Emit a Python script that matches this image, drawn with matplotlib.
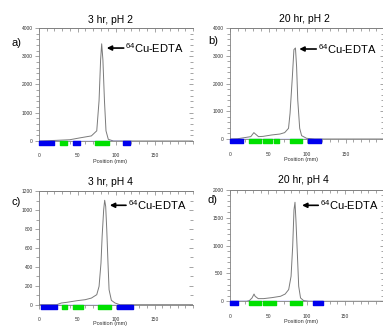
#!/usr/bin/env python3
import matplotlib
matplotlib.use("Agg")
import matplotlib.pyplot as plt
from matplotlib.ticker import MultipleLocator, NullFormatter

plt.rcParams['font.family'] = ['Liberation Sans', 'DejaVu Sans']
plt.rcParams['mathtext.fontset'] = 'custom'
plt.rcParams['mathtext.rm'] = 'Liberation Sans'
plt.rcParams['mathtext.default'] = 'regular'

# traces: position (mm), counts
pos_a = [0, 20, 40, 53, 68, 75, 78, 80, 81.4, 83, 85, 87, 90, 96.5, 110, 200]
cnt_a = [0, 20, 45, 110, 180, 360, 1430, 2870, 3440, 2870, 1430, 360, 60, 0, 0, 0]

pos_b = [0, 10, 27, 31, 33, 37, 43, 54, 65, 71, 76, 78, 81, 83, 85, 86.5, 88, 90.5, 93, 99.5, 110, 200]
cnt_b = [0, 10, 85, 230, 180, 85, 95, 145, 180, 230, 385, 930, 2250, 3220, 3280, 2600, 1400, 385, 120, 25, 0, 0]

pos_c = [0, 23, 29, 36, 49, 60, 68, 75, 78, 80.5, 82, 84, 85.3, 86.6, 88, 89.6, 91, 94, 98.7, 105, 200]
cnt_c = [0, 0, 18, 25, 42, 53, 70, 106, 194, 441, 724, 1006, 1105, 1041, 794, 441, 159, 46, 18, 0, 0]

pos_d = [0, 22, 25.5, 29, 31.6, 33, 37, 44, 55, 66, 72, 76.6, 79.7, 81.8, 83.5, 84.8, 86, 88, 89.6, 92, 96, 102.6, 200]
cnt_d = [0, 0, 12, 60, 130, 90, 48, 48, 66, 90, 130, 210, 450, 985, 1640, 1775, 1460, 805, 270, 60, 12, 0, 0]

# integration regions (start, end) in mm
blue_a = [(0, 19), (44, 53), (109, 118)]
green_a = [(27, 36), (73, 91)]
blue_b = [(0, 16.5), (101, 118)]
green_b = [(25, 40), (42.5, 54), (56.7, 64), (78, 93)]
blue_c = [(2, 23), (101, 122.5)]
green_c = [(29.5, 36), (44, 57), (77, 94)]
blue_d = [(0, 10.4), (108, 121)]
green_d = [(25.5, 40), (43, 60.5), (78.6, 94)]

titles = ["3 hr, pH 2", "20 hr, pH 2", "3 hr, pH 4", "20 hr, pH 4"]
letters = ["a)", "b)", "c)", "d)"]
ymaxes = [4000, 4000, 1200, 2000]
ymajor = [1000, 1000, 200, 500]
yminor = [200, 200, 100, 100]
arrow_xy = [(88, 3290), (90, 3243), (92, 1052), (94, 1720)]
text_x = [112, 114, 115, 117]

W, H = 383, 326
fig = plt.figure(figsize=(W / 100, H / 100), dpi=100)

# axes boxes in pixels: left, zero-line y, height
boxes = [(39, 141, 113), (230, 139, 111), (39, 304.7, 113.4), (229.7, 301.3, 111.6)]
title_px = [(110, 20), (304, 19), (110, 182), (303.7, 180.3)]
letter_px = [(17, 43), (213, 41), (16, 202), (212, 200)]
xlabel_off = [18, 18, 16, 18]

data = [(pos_a, cnt_a, blue_a, green_a), (pos_b, cnt_b, blue_b, green_b),
        (pos_c, cnt_c, blue_c, green_c), (pos_d, cnt_d, blue_d, green_d)]

grey = '#808080'
for i in range(4):
    lx, zy, hh = boxes[i]
    ax = fig.add_axes([lx / W, 1 - zy / H, 154 / W, hh / H])
    pos, cnt, blues, greens = data[i]
    ax.plot(pos, cnt, color='#7a7a7a', lw=0.7)
    ax.plot([0, 120], [0, 0], color='#4040ff', lw=0.9)
    bar_h = 4.0 / hh
    ax.broken_barh([(a, b - a) for a, b in blues], (-bar_h, bar_h),
                   transform=ax.get_xaxis_transform(), color='#0000ee', clip_on=False, zorder=5)
    ax.broken_barh([(a, b - a) for a, b in greens], (-bar_h, bar_h),
                   transform=ax.get_xaxis_transform(), color='#00e000', clip_on=False, zorder=5)
    ax.set_xlim(0, 200)
    ax.set_ylim(0, ymaxes[i])
    ax.set_xticks([0, 50, 100, 150])
    ax.xaxis.set_minor_locator(MultipleLocator(10))
    ax.yaxis.set_major_locator(MultipleLocator(ymajor[i]))
    ax.yaxis.set_minor_locator(MultipleLocator(yminor[i]))
    ax.spines['right'].set_visible(False)
    for s in ['left', 'top', 'bottom']:
        ax.spines[s].set_color(grey)
        ax.spines[s].set_linewidth(0.6)
    ax.tick_params(which='both', direction='out', colors=grey, width=0.5, labelcolor='#333333')
    ax.tick_params(axis='x', labelsize=3.5, pad=6)
    ax.tick_params(axis='y', labelsize=3.5, pad=1.5)
    ax.tick_params(which='major', length=3)
    ax.tick_params(which='minor', length=2)
    ax.set_xlabel("Position (mm)", fontsize=4, color='#333333')
    ax.xaxis.set_label_coords(0.46, -xlabel_off[i] / hh)

    # inward ticks along top and right edges
    top = ax.secondary_xaxis('top')
    top.set_xticks([0, 50, 100, 150])
    top.xaxis.set_minor_locator(MultipleLocator(10))
    top.xaxis.set_major_formatter(NullFormatter())
    top.tick_params(which='both', direction='in', colors=grey, width=0.5)
    top.tick_params(which='major', length=3)
    top.tick_params(which='minor', length=2)
    top.spines['top'].set_color(grey)
    top.spines['top'].set_linewidth(0.6)
    right = ax.secondary_yaxis('right')
    right.yaxis.set_major_locator(MultipleLocator(ymajor[i]))
    right.yaxis.set_minor_locator(MultipleLocator(yminor[i]))
    right.yaxis.set_major_formatter(NullFormatter())
    right.tick_params(which='both', direction='in', colors=grey, width=0.5)
    right.tick_params(which='major', length=3)
    right.tick_params(which='minor', length=2)
    right.spines['right'].set_visible(False)

    ax.annotate('', xy=arrow_xy[i], xytext=(text_x[i] - 2, arrow_xy[i][1]),
                arrowprops=dict(arrowstyle='-|>', color='black', lw=1.2,
                                mutation_scale=7, shrinkA=0, shrinkB=0))
    ax.text(text_x[i], arrow_xy[i][1], r'$^{64}$Cu-EDTA', fontsize=8,
            va='center', ha='left', clip_on=False)
    tx, ty = title_px[i]
    fig.text(tx / W, 1 - ty / H, titles[i], fontsize=7.5, ha='center', va='center')
    px, py = letter_px[i]
    fig.text(px / W, 1 - py / H, letters[i], fontsize=8, ha='center', va='center')

fig.savefig("out.png", dpi=100)
